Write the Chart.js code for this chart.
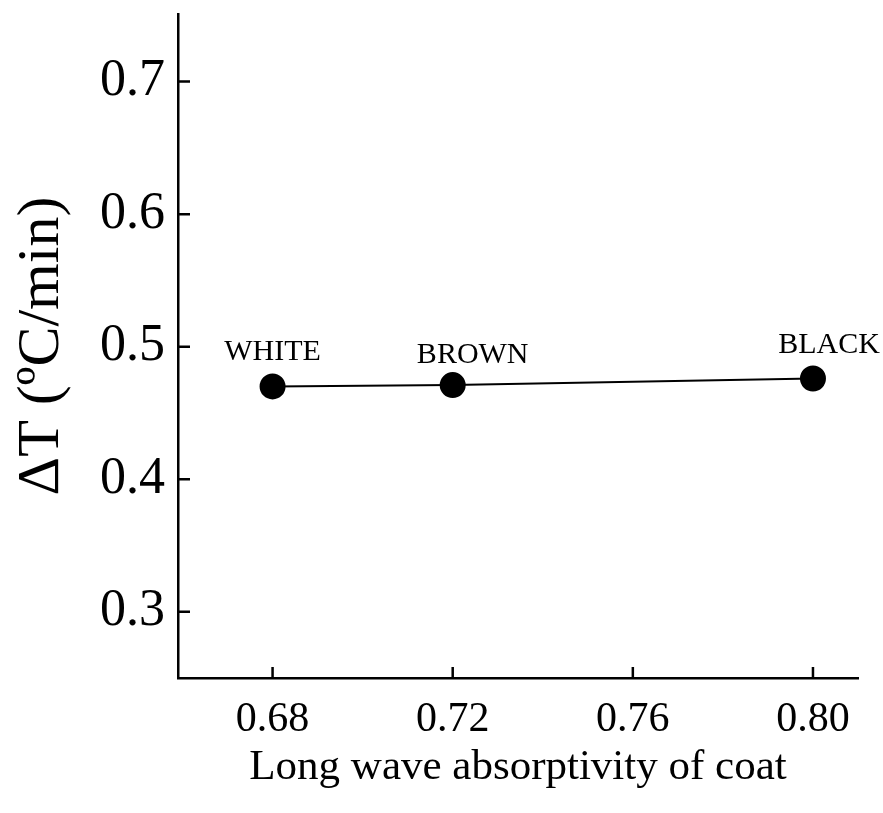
<!DOCTYPE html>
<html>
<head>
<meta charset="utf-8">
<title>Cooling rate vs coat absorptivity</title>
<script src="https://cdn.jsdelivr.net/npm/chart.js@4.4.1/dist/chart.umd.min.js"></script>
<style>
    html, body { margin: 0; padding: 0; background: #fff; }
    #wrap { width: 883px; height: 813px; }
</style>
</head>
<body>
<div id="wrap"><canvas id="coatChart" width="883" height="813"></canvas></div>
<script>
// coat colours and their measured values
const coatNames = ['WHITE', 'BROWN', 'BLACK'];
const absorptivity = [0.68, 0.72, 0.80];
const deltaT = [0.470, 0.471, 0.476];

// axis ticks
const xTicks = [0.68, 0.72, 0.76, 0.80];
const yTicks = [0.3, 0.4, 0.5, 0.6, 0.7];

// label placement relative to each dot (px)
const labelOffsets = [[0, -34], [20, -30], [16, -33]];

const SERIF = '"Liberation Serif", "Times New Roman", serif';

// ticks are drawn inward, so Chart.js's own tick marks are switched off
const inwardTicks = {
    id: 'inwardTicks',
    afterDraw(chart) {
        const ctx = chart.ctx;
        const x = chart.scales.x;
        const y = chart.scales.y;
        const area = chart.chartArea;
        ctx.save();
        ctx.strokeStyle = '#000';
        ctx.lineWidth = 2.5;
        ctx.beginPath();
        xTicks.forEach(v => {
            const px = x.getPixelForValue(v);
            ctx.moveTo(px, area.bottom);
            ctx.lineTo(px, area.bottom - 11);
        });
        yTicks.forEach(v => {
            const py = y.getPixelForValue(v);
            ctx.moveTo(area.left, py);
            ctx.lineTo(area.left + 12, py);
        });
        ctx.stroke();
        ctx.restore();
    }
};

// coat name above each dot
const pointNames = {
    id: 'pointNames',
    afterDatasetsDraw(chart) {
        const ctx = chart.ctx;
        const meta = chart.getDatasetMeta(0);
        ctx.save();
        ctx.fillStyle = '#000';
        ctx.font = '30px ' + SERIF;
        ctx.textAlign = 'center';
        ctx.textBaseline = 'middle';
        meta.data.forEach((pt, i) => {
            const [dx, dy] = labelOffsets[i];
            ctx.fillText(coatNames[i], pt.x + dx, pt.y + dy);
        });
        ctx.restore();
    }
};

new Chart(document.getElementById('coatChart'), {
    type: 'scatter',
    data: {
        datasets: [{
            data: absorptivity.map((a, i) => ({ x: a, y: deltaT[i] })),
            showLine: true,
            borderColor: '#000',
            borderWidth: 2,
            backgroundColor: '#000',
            pointRadius: 12,
            pointHoverRadius: 12
        }]
    },
    options: {
        responsive: false,
        animation: false,
        events: [],
        layout: { padding: { top: 11, right: 25, left: 0, bottom: 0 } },
        plugins: {
            legend: { display: false },
            tooltip: { enabled: false }
        },
        scales: {
            x: {
                type: 'linear',
                min: 0.659,
                max: 0.81,
                afterBuildTicks: s => { s.ticks = xTicks.map(v => ({ value: v })); },
                afterFit: s => { s.height = 135; s.paddingLeft = 0; s.paddingRight = 0; },
                grid: { drawOnChartArea: false, drawTicks: false },
                border: { display: true, color: '#000', width: 2.5 },
                ticks: {
                    color: '#000',
                    padding: 17,
                    font: { family: SERIF, size: 42 },
                    callback: v => v.toFixed(2)
                },
                title: {
                    display: true,
                    text: 'Long wave absorptivity of coat',
                    color: '#000',
                    font: { family: SERIF, size: 43 },
                    padding: { top: 10, bottom: 19 }
                }
            },
            y: {
                type: 'linear',
                min: 0.25,
                max: 0.751,
                afterBuildTicks: s => { s.ticks = yTicks.map(v => ({ value: v })); },
                afterFit: s => { s.width = 178; s.paddingTop = 0; s.paddingBottom = 0; },
                grid: { drawOnChartArea: false, drawTicks: false },
                border: { display: true, color: '#000', width: 2.5 },
                ticks: {
                    color: '#000',
                    padding: 13,
                    font: { family: SERIF, size: 52 },
                    callback: v => v.toFixed(1)
                },
                title: {
                    display: true,
                    text: 'ΔT (ºC/min)',
                    color: '#000',
                    font: { family: SERIF, size: 60 },
                    padding: { top: 6, bottom: 0 }
                }
            }
        }
    },
    plugins: [inwardTicks, pointNames]
});
</script>
</body>
</html>
